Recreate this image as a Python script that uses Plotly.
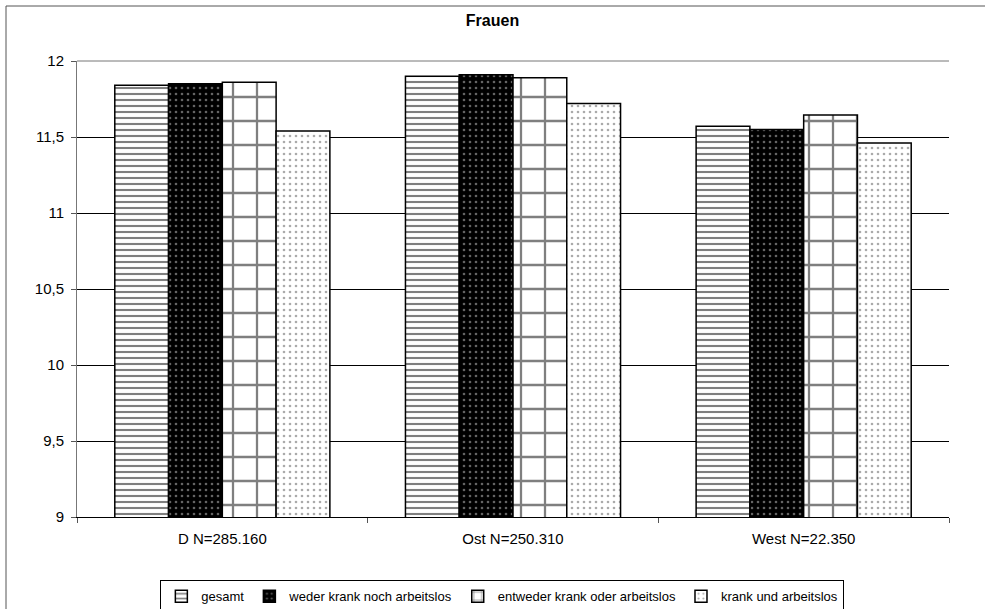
import plotly.graph_objects as go

categories = ["D N=285.160", "Ost N=250.310", "West N=22.350"]
series_names = ["gesamt", "weder krank noch arbeitslos",
                "entweder krank oder arbeitslos", "krank und arbeitslos"]
gesamt = [11.84, 11.90, 11.57]
weder = [11.85, 11.91, 11.55]
entweder = [11.86, 11.89, 11.645]
krank_und = [11.54, 11.72, 11.46]
y_ticks = [9, 9.5, 10, 10.5, 11, 11.5, 12]

values = [gesamt, weder, entweder, krank_und]
patterns = [
    dict(shape="-", fgcolor="black", bgcolor="white", size=6, solidity=0.35, fillmode="overlay"),
    dict(shape=".", fgcolor="#c8c8c8", bgcolor="black", size=6, solidity=0.15, fillmode="overlay"),
    dict(shape="+", fgcolor="black", bgcolor="white", size=24, solidity=0.18, fillmode="overlay"),
    dict(shape=".", fgcolor="#555555", bgcolor="white", size=6, solidity=0.15, fillmode="overlay"),
]

fig = go.Figure()
for name, vals, pat in zip(series_names, values, patterns):
    fig.add_trace(go.Bar(
        x=categories, y=vals, name=name,
        marker=dict(color="white", pattern=pat,
                    line=dict(color="black", width=1.5)),
    ))

font_family = "Liberation Sans, Arial, sans-serif"
left_px = (6 - 77) / 872
top_px = (517 - 6) / 456
fig.update_layout(
    width=985, height=609,
    margin=dict(l=77, r=36, t=61, b=92),
    paper_bgcolor="white", plot_bgcolor="white",
    barmode="group", bargap=0.26, bargroupgap=0,
    separators=",.",
    font=dict(family=font_family, size=15, color="black"),
    title=dict(text="<b>Frauen</b>", x=0.5, xanchor="center", y=0.967, yanchor="middle",
               font=dict(family=font_family, size=16, color="black")),
    showlegend=True,
    legend=dict(orientation="h", xref="container", yref="container",
                x=0.51, xanchor="center", y=0.021, yanchor="middle",
                bordercolor="black", borderwidth=1, bgcolor="white",
                font=dict(family=font_family, size=13), itemwidth=30,
                traceorder="normal"),
    xaxis=dict(showline=True, linecolor="black", linewidth=1,
               ticks="outside", tickson="boundaries", ticklen=5, tickcolor="#555555",
               showgrid=False, tickfont=dict(size=15), ticklabelstandoff=8),
    yaxis=dict(range=[9, 12], tickvals=y_ticks, showline=True, linecolor="#777777",
               linewidth=1, ticks="outside", ticklen=5, tickcolor="#555555",
               showgrid=True, gridcolor="black", gridwidth=1, zeroline=False,
               tickfont=dict(size=15), ticklabelstandoff=4),
    shapes=[
        dict(type="line", xref="paper", yref="paper", x0=0, x1=1, y0=1, y1=1,
             line=dict(color="#777777", width=1)),
        dict(type="line", xref="paper", yref="paper",
             x0=left_px, x1=1.3, y0=top_px, y1=top_px,
             line=dict(color="#555555", width=1)),
        dict(type="line", xref="paper", yref="paper",
             x0=left_px, x1=left_px, y0=-0.5, y1=top_px,
             line=dict(color="#555555", width=1)),
    ],
)

fig.write_html("out.html", config={"displayModeBar": False},
               post_script="document.body.style.margin='0';document.body.style.padding='0';"
                           "document.body.style.overflow='hidden';"
                           "document.documentElement.style.overflow='hidden';")
